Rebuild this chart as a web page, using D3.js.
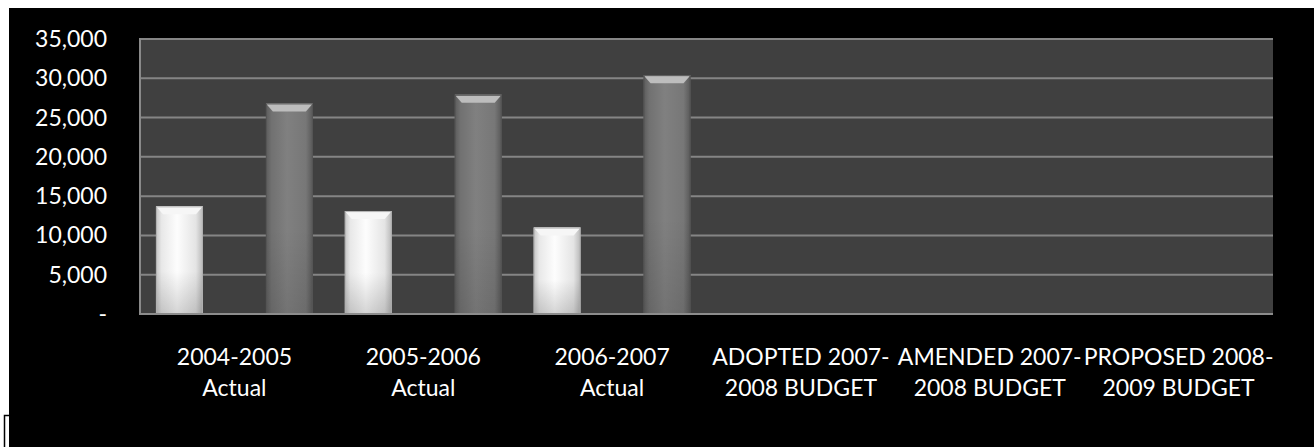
<!DOCTYPE html>
<html>
<head>
<meta charset="utf-8">
<script src="https://cdn.jsdelivr.net/npm/d3@7"></script>
<style>
  html, body { margin: 0; padding: 0; background: #ffffff; }
  svg { display: block; }
  text { font-family: Lato, "Open Sans", sans-serif; fill: #ffffff; }
</style>
</head>
<body>
<svg id="chart" width="1314" height="447"></svg>
<script>
// Fiscal-year columns (two-line labels)
const categories = [
  ["2004-2005", "Actual"],
  ["2005-2006", "Actual"],
  ["2006-2007", "Actual"],
  ["ADOPTED 2007-", "2008 BUDGET"],
  ["AMENDED 2007-", "2008 BUDGET"],
  ["PROPOSED 2008-", "2009 BUDGET"]
];
// Light series (first slot of each group)
const lightValues = [13700, 13100, 11000, null, null, null];
// Middle slot carries no values in any year
const middleValues = [null, null, null, null, null, null];
// Dark series (third slot of each group)
const darkValues = [26800, 27900, 30400, null, null, null];
// Value axis ticks
const tickValues = [0, 5000, 10000, 15000, 20000, 25000, 30000, 35000];
const tickLabels = ["-", "5,000", "10,000", "15,000", "20,000", "25,000", "30,000", "35,000"];

const svg = d3.select("#chart");
const W = 1314, H = 447;
const plot = { left: 140, right: 1273, top: 39, bottom: 314 };

// page frame: black canvas inset from the white edge
svg.append("rect").attr("x", 9).attr("y", 8).attr("width", W - 9).attr("height", H - 8).attr("fill", "#000");
svg.append("path").attr("d", "M4.5,447 V415.5 H9").attr("fill", "none").attr("stroke", "#000").attr("stroke-width", 1.5);

const x0 = d3.scaleBand().domain(d3.range(categories.length)).range([plot.left, plot.right]).padding(0);
const x1 = d3.scaleBand().domain([0, 1, 2]).range([0, x0.bandwidth()]).paddingInner(0.145).paddingOuter(0.29);
const y = d3.scaleLinear().domain([0, 35000]).range([plot.bottom, plot.top]);

const defs = svg.append("defs");
function hGrad(id, stops) {
  const g = defs.append("linearGradient").attr("id", id).attr("x1", 0).attr("x2", 1).attr("y1", 0).attr("y2", 0);
  stops.forEach(s => g.append("stop").attr("offset", s[0]).attr("stop-color", s[1]));
}
function vGrad(id, stops) {
  const g = defs.append("linearGradient").attr("id", id).attr("x1", 0).attr("x2", 0).attr("y1", 0).attr("y2", 1);
  stops.forEach(s => g.append("stop").attr("offset", s[0]).attr("stop-color", s[1]).attr("stop-opacity", s[2] == null ? 1 : s[2]));
}
hGrad("lightBody", [[0, "#c4c4c4"], [0.12, "#e8e8e8"], [0.45, "#fdfdfd"], [0.85, "#e4e4e4"], [1, "#b8b8b8"]]);
hGrad("darkBody", [[0, "#5c5c5c"], [0.12, "#717171"], [0.45, "#808080"], [0.85, "#777777"], [1, "#585858"]]);
vGrad("lightShade", [[0, "#000", 0], [0.6, "#000", 0], [1, "#000", 0.16]]);
vGrad("darkShade", [[0, "#000", 0], [0.6, "#000", 0], [1, "#000", 0.1]]);

// plot background
svg.append("rect").attr("x", plot.left).attr("y", plot.top)
  .attr("width", plot.right - plot.left).attr("height", plot.bottom - plot.top).attr("fill", "#404040");

// gridlines
svg.append("g").selectAll("line").data(tickValues.filter(v => v > 0)).join("line")
  .attr("x1", plot.left).attr("x2", plot.right)
  .attr("y1", d => y(d)).attr("y2", d => y(d))
  .attr("stroke", "#858585").attr("stroke-width", 2);

// value axis line and labels
svg.append("line").attr("x1", plot.left).attr("x2", plot.left).attr("y1", plot.top - 1).attr("y2", plot.bottom)
  .attr("stroke", "#8a8a8a").attr("stroke-width", 2);
svg.append("g").selectAll("text").data(tickValues).join("text")
  .attr("x", 107).attr("y", d => y(d)).attr("dy", "0.35em")
  .attr("text-anchor", "end").attr("font-size", 23)
  .text((d, i) => tickLabels[i]);

// draws one bevelled column
function drawBars(values, slot, bodyFill, shadeFill, topFill, edge) {
  const g = svg.append("g");
  const data = values.map((v, i) => ({ v, i })).filter(d => d.v != null);
  const bw = x1.bandwidth();
  const bars = g.selectAll("g").data(data).join("g")
    .attr("transform", d => `translate(${x0(d.i) + x1(slot)},0)`);
  bars.append("rect").attr("x", 0).attr("width", bw)
    .attr("y", d => y(d.v)).attr("height", d => y(0) - y(d.v)).attr("fill", bodyFill);
  bars.append("rect").attr("x", 0).attr("width", bw)
    .attr("y", d => y(d.v)).attr("height", d => y(0) - y(d.v)).attr("fill", shadeFill);
  bars.append("path")
    .attr("d", d => {
      const t = y(d.v);
      return `M0,${t} H${bw} L${bw - 7},${t + 8} H7 Z`;
    })
    .attr("fill", topFill);
  bars.append("rect").attr("x", 0.5).attr("width", bw - 1)
    .attr("y", d => y(d.v) + 0.5).attr("height", d => y(0) - y(d.v) - 0.5)
    .attr("fill", "none").attr("stroke", edge).attr("stroke-width", 1);
}
drawBars(lightValues, 0, "url(#lightBody)", "url(#lightShade)", "#f6f6f6", "#b0b0b0");
drawBars(middleValues, 1, "#999", "none", "#bbb", "#888");
drawBars(darkValues, 2, "url(#darkBody)", "url(#darkShade)", "#bdbdbd", "#555555");

// category axis line
svg.append("line").attr("x1", plot.left - 1).attr("x2", plot.right).attr("y1", plot.bottom).attr("y2", plot.bottom)
  .attr("stroke", "#8c8c8c").attr("stroke-width", 2);

// category labels
const labels = svg.append("g").selectAll("text").data(categories).join("text")
  .attr("text-anchor", "middle").attr("font-size", 23)
  .attr("transform", (d, i) => `translate(${x0(i) + x0.bandwidth() / 2},0)`);
labels.selectAll("tspan").data(d => d).join("tspan")
  .attr("x", 0).attr("y", (d, j) => 365 + j * 31)
  .text(d => d);
</script>
</body>
</html>
